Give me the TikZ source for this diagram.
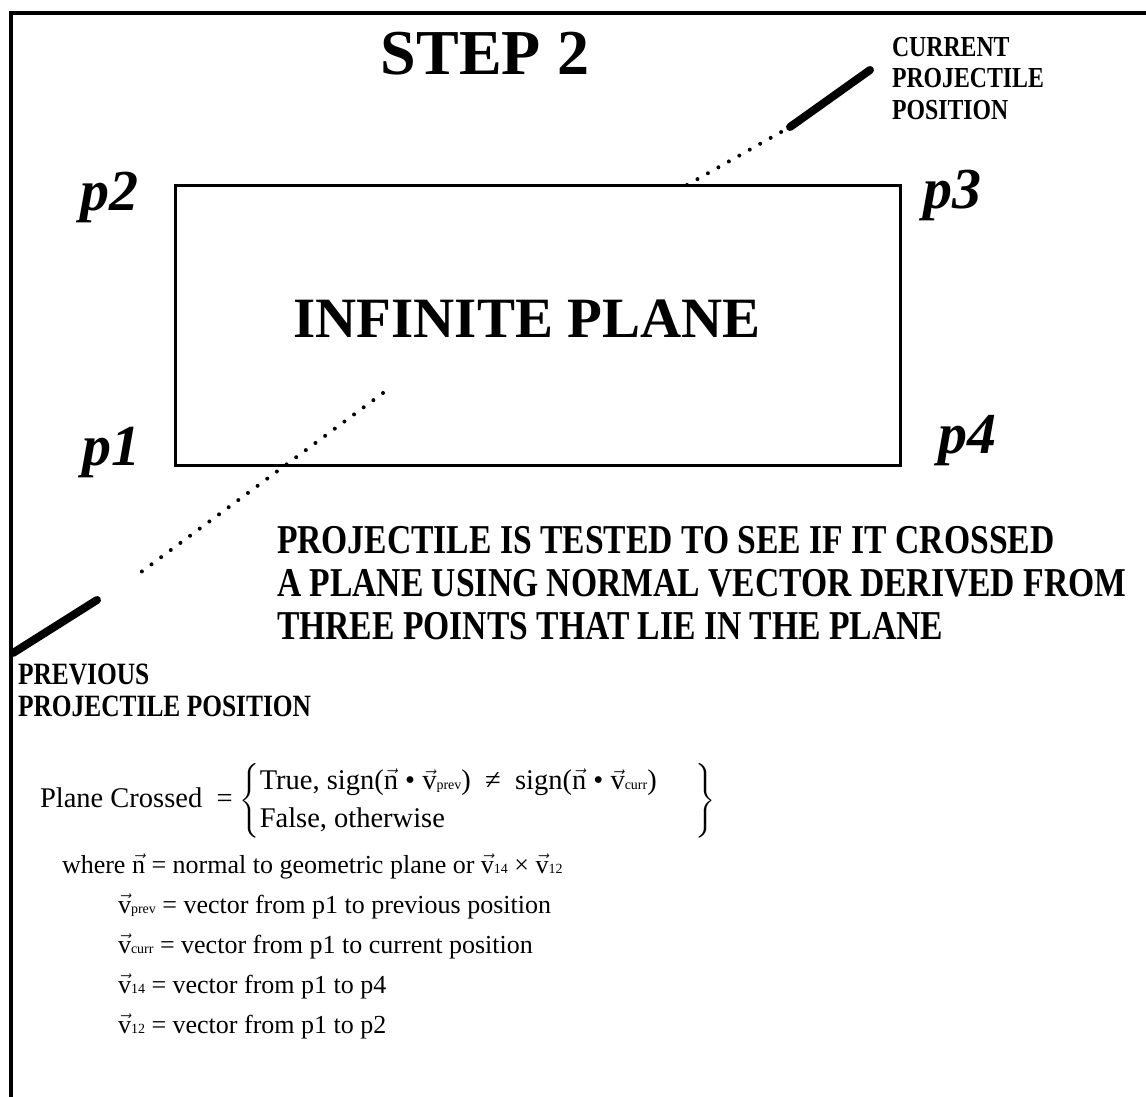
\documentclass[tikz,border=0pt]{standalone}
\usepackage{fontspec}
\usepackage{amsmath}
\usetikzlibrary{positioning,calc}
\setmainfont{Liberation Serif}
\newfontfamily\condfont[FakeStretch=0.82]{Liberation Serif}
\newcommand{\vecx}[1]{\ensuremath{\vec{\mbox{#1}}}}
\newcommand{\vsb}[1]{{\fontsize{14}{14}\selectfont #1}}

\begin{document}
\begin{tikzpicture}[x=1pt,y=-1pt,
  every node/.style={inner sep=0pt,outer sep=0pt},
  pageframe/.style={line width=4pt},
  planebox/.style={draw,line width=3pt,minimum width=725pt,minimum height=280pt},
  corner/.style={font=\fontsize{58}{58}\selectfont\bfseries\itshape,anchor=base west},
  heading/.style={font=\bfseries\fontsize{64}{64}\selectfont,anchor=base},
  bigtext/.style={font=\bfseries\fontsize{57}{57}\selectfont,anchor=base},
  tag/.style={font=\condfont\bfseries\fontsize{29}{31.5}\selectfont,align=left,anchor=north west},
  note/.style={font=\condfont\bfseries\fontsize{41}{43}\selectfont,align=left,anchor=north west},
  eqtext/.style={font=\fontsize{26}{38}\selectfont,anchor=base west},
  trail/.style={line width=4pt,dash pattern=on 0pt off 12pt,line cap=round},
  shot/.style={line width=8pt,line cap=round}
]
\useasboundingbox (0,0) rectangle (1146,1097);
\draw[pageframe] (11,1099) -- (11,13) -- (1148,13);

% plane and its corner points
\node[planebox] (plane) at (537.5,325) {};
\node[bigtext] (title) at (527,337) {INFINITE PLANE};
\node[heading] (step) at (485,75) {STEP 2};
\node[corner] (p2) at (80,210)  {p2};
\node[corner] (p3) at (923,208) {p3};
\node[corner] (p1) at (82,465)  {p1};
\node[corner] (p4) at (938,453) {p4};

% projectile path
\coordinate (hitTop) at (687,185);
\coordinate (curA) at (790,127);
\coordinate (curB) at (870,70);
\coordinate (inside) at (383,393);
\coordinate (dotEnd) at (133,578);
\coordinate (prevA) at (97,600);
\coordinate (prevB) at (13,653);
\draw[trail] (hitTop) -- (curA);
\draw[shot] (curA) -- (curB);
\draw[trail] (inside) -- (dotEnd);
\draw[shot] (prevA) -- (prevB);

\node[tag] (current) at (892,37) {CURRENT\\PROJECTILE\\POSITION};
\node[tag,font=\condfont\bfseries\fontsize{31}{32}\selectfont] (previous) at (18,664) {PREVIOUS\\PROJECTILE POSITION};
\node[note] (test) at (277,526) {PROJECTILE IS TESTED TO SEE IF IT CROSSED\\
  A PLANE USING NORMAL VECTOR DERIVED FROM\\THREE POINTS THAT LIE IN THE PLANE};

% crossing test
\node[eqtext,anchor=west,font=\fontsize{28.5}{38}\selectfont] (crossed) at (40,801) {Plane Crossed\ \ =\
  \delimiterfactor=820 \delimitershortfall=14pt
  $\left\{\begin{tabular}{@{}p{436pt}@{}}
  True,\ sign(\vecx{n} • \vecx{v}\vsb{prev})\ \ ≠\ \ sign(\vecx{n} • \vecx{v}\vsb{curr})\\
  False, otherwise
  \end{tabular}\right\}$};
\node[eqtext] (where) at (62,873) {where \vecx{n} = normal to geometric plane or \vecx{v}\vsb{14} × \vecx{v}\vsb{12}};
\node[eqtext] (defprev) at (118,913) {\vecx{v}\vsb{prev} = vector from p1 to previous position};
\node[eqtext] (defcurr) at (118,953) {\vecx{v}\vsb{curr} = vector from p1 to current position};
\node[eqtext] (def14) at (118,993) {\vecx{v}\vsb{14} = vector from p1 to p4};
\node[eqtext] (def12) at (118,1033) {\vecx{v}\vsb{12} = vector from p1 to p2};
\end{tikzpicture}
\end{document}
